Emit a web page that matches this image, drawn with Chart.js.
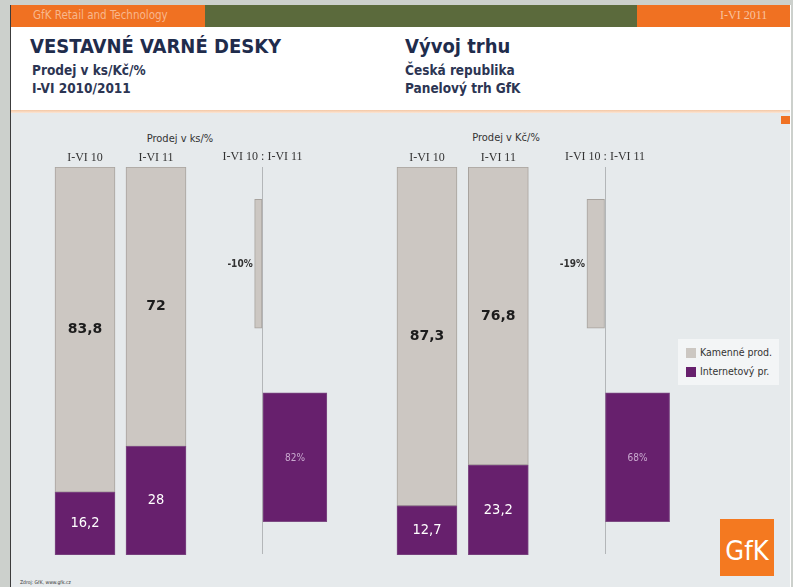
<!DOCTYPE html>
<html><head>
<meta charset="UTF-8">
<title>Vestavné varné desky</title>
<script src="https://cdn.jsdelivr.net/npm/chart.js"></script>
<style>
  body { margin:0; width:793px; height:587px; background:#ccd0cc; overflow:hidden; position:relative;
         font-family:"DejaVu Sans Condensed","DejaVu Sans",sans-serif; }
  .abs { position:absolute; }
  .serif { font-family:"Liberation Serif", serif; }
  .title { font-weight:bold; font-size:20px; color:#1f2c4c; }
  .sub { font-weight:bold; font-size:13.5px; color:#2c3553; }
  .head { font-size:12px; color:#333; }
  canvas { position:absolute; }
  .lg { font-size:10.5px; color:#333; }
  .sw { width:10px; height:10px; }
</style>
</head>
<body>
  <!-- slide frame -->
  <div class="abs" style="left:10px;top:5px;width:780px;height:582px;background:#fff;border-left:1px solid #3c3c3c;"></div>
  <!-- header bar -->
  <div class="abs" style="left:11px;top:5px;width:194px;height:22px;background:#f07122;"></div>
  <div class="abs" style="left:205px;top:5px;width:432px;height:22px;background:#5b6a3c;"></div>
  <div class="abs" style="left:637px;top:5px;width:153px;height:22px;background:#f07122;"></div>
  <div class="abs" style="left:33px;top:8px;font-size:11.5px;color:#f8b78d;">GfK Retail and Technology</div>
  <div class="abs serif" style="left:720px;top:8px;font-size:12px;color:#f9c4a0;">I-VI 2011</div>

  <!-- titles -->
  <div class="abs title" style="left:30px;top:34px;">VESTAVNÉ VARNÉ DESKY</div>
  <div class="abs sub" style="left:32px;top:62px;">Prodej v ks/Kč/%</div>
  <div class="abs sub" style="left:32px;top:80px;">I-VI 2010/2011</div>
  <div class="abs title" style="left:405px;top:34px;">Vývoj trhu</div>
  <div class="abs sub" style="left:405px;top:62px;">Česká republika</div>
  <div class="abs sub" style="left:405px;top:80px;">Panelový trh GfK</div>

  <!-- chart panel -->
  <div class="abs" style="left:11px;top:110px;width:779px;height:3px;background:linear-gradient(#f4c7a4,#fbe6d6);"></div>
  <div class="abs" style="left:11px;top:113px;width:779px;height:474px;background:#e6eaec;"></div>
  <div class="abs" style="left:781px;top:116px;width:9px;height:8px;background:#f07122;"></div>

  <div class="abs head" style="left:138px;top:132px;width:84px;text-align:center;font-size:11px;">Prodej v ks/%</div>
  <div class="abs head" style="left:464px;top:131px;width:84px;text-align:center;font-size:11px;">Prodej v Kč/%</div>

  <canvas id="ksShare" width="160" height="440" style="left:40px;top:120px;"></canvas>
  <canvas id="ksChange" width="190" height="440" style="left:170px;top:120px;"></canvas>
  <canvas id="kcShare" width="160" height="440" style="left:380px;top:120px;"></canvas>
  <canvas id="kcChange" width="180" height="440" style="left:515px;top:120px;"></canvas>

  <!-- legend -->
  <div class="abs" style="left:678px;top:339px;width:101px;height:46px;background:#f3f5f6;"></div>
  <div class="abs sw" style="left:686px;top:348px;background:#ccc7c2;"></div>
  <div class="abs lg" style="left:700px;top:346px;" id="lg0"></div>
  <div class="abs sw" style="left:686px;top:367px;background:#67206d;"></div>
  <div class="abs lg" style="left:700px;top:365px;" id="lg1"></div>

  <!-- logo and footnote -->
  <div class="abs" style="left:720px;top:519px;width:54px;height:57px;background:#f47920;"></div>
  <div class="abs" style="left:720px;top:535px;width:54px;text-align:center;color:#fff;font-size:27px;font-family:'Liberation Sans Narrow','DejaVu Sans Condensed',sans-serif;">GfK</div>
  <div class="abs" style="left:20px;top:579px;font-size:5px;color:#333;">Zdroj: GfK, www.gfk.cz</div>

<script>
const periods = ['I-VI 10', 'I-VI 11'];
const seriesNames = ['Kamenné prod.', 'Internetový pr.'];
const changeLabel = 'I-VI 10 : I-VI 11';

// podíly v %
const ksStore = [83.8, 72];
const ksOnline = [16.2, 28];
const kcStore = [87.3, 76.8];
const kcOnline = [12.7, 23.2];

// meziroční změna v % [kamenné, internet]
const ksChange = [-10, 82];
const kcChange = [-19, 68];

const GREY = '#ccc7c2', GREY_EDGE = '#a8a39e';
const PURPLE = '#67206d', PURPLE_EDGE = '#7d4a83';

document.getElementById('lg0').textContent = seriesNames[0];
document.getElementById('lg1').textContent = seriesNames[1];

Chart.defaults.font.family = '"DejaVu Sans Condensed","DejaVu Sans",sans-serif';

const fmt = v => String(v).replace('.', ',');

// popisky hodnot
const valueLabels = {
  id: 'valueLabels',
  afterDatasetsDraw(chart, args, opts) {
    const ctx = chart.ctx;
    ctx.save();
    ctx.textBaseline = 'middle';
    chart.data.datasets.forEach((ds, i) => {
      chart.getDatasetMeta(i).data.forEach((bar, j) => {
        const v = ds.data[j];
        if (opts.mode === 'change') {
          if (v < 0) {
            ctx.font = 'bold 10px "DejaVu Sans Condensed","DejaVu Sans"';
            ctx.fillStyle = '#333';
            ctx.textAlign = 'right';
            ctx.fillText(v + '%', bar.x - 2, bar.y + 1);
          } else {
            ctx.font = '10px "DejaVu Sans Condensed","DejaVu Sans"';
            ctx.fillStyle = '#c9a9cf';
            ctx.textAlign = 'center';
            ctx.fillText(v + '%', (bar.x + bar.base) / 2, bar.y + 1);
          }
        } else {
          const online = i === 0;
          ctx.font = online ? '14.5px "DejaVu Sans Condensed","DejaVu Sans"' : 'bold 14px "DejaVu Sans"';
          ctx.fillStyle = online ? '#ffffff' : '#1c1c1c';
          ctx.textAlign = 'center';
          ctx.fillText(fmt(v), bar.x, (bar.y + bar.base) / 2);
        }
      });
    });
    ctx.restore();
  }
};

function shareChart(id, store, online, padL, padR) {
  return new Chart(document.getElementById(id), {
    type: 'bar',
    data: {
      labels: periods,
      datasets: [
        { label: seriesNames[1], data: online, backgroundColor: PURPLE, borderColor: PURPLE_EDGE,
          borderWidth: 1, borderSkipped: false, barThickness: 60 },
        { label: seriesNames[0], data: store, backgroundColor: GREY, borderColor: GREY_EDGE,
          borderWidth: 1, borderSkipped: false, barThickness: 60 }
      ]
    },
    options: {
      responsive: false,
      animation: false,
      layout: { padding: { left: padL, right: padR, top: 0, bottom: 5 } },
      plugins: { legend: { display: false }, tooltip: { enabled: false }, valueLabels: { mode: 'share' } },
      scales: {
        x: {
          position: 'top', stacked: true,
          grid: { display: false, drawTicks: false }, border: { display: false },
          ticks: { padding: 2, color: '#333', font: { family: 'Liberation Serif', size: 12 } },
          afterFit: a => { a.height = 47; }
        },
        y: { stacked: true, min: 0, max: 100, display: false }
      }
    },
    plugins: [valueLabels]
  });
}

function changeChart(id, values, lim, padL, padR) {
  return new Chart(document.getElementById(id), {
    type: 'bar',
    data: {
      labels: seriesNames,
      datasets: [{
        data: values,
        backgroundColor: [GREY, PURPLE],
        borderColor: [GREY_EDGE, PURPLE_EDGE],
        borderWidth: 1, borderSkipped: false, barThickness: 129
      }]
    },
    options: {
      indexAxis: 'y',
      responsive: false,
      animation: false,
      layout: { padding: { left: padL, right: padR, top: 0, bottom: 6 } },
      plugins: { legend: { display: false }, tooltip: { enabled: false }, valueLabels: { mode: 'change' } },
      scales: {
        x: {
          position: 'top', min: -lim, max: lim,
          ticks: { display: false, stepSize: 10 },
          border: { display: false },
          grid: { drawTicks: false, lineWidth: 1,
                  color: c => (c.tick && c.tick.value === 0) ? '#b3b6b8' : 'transparent' },
          title: { display: true, text: changeLabel, color: '#333',
                   font: { family: 'Liberation Serif', size: 12 }, padding: { top: 30, bottom: 0 } },
          afterFit: a => { a.height = 47; }
        },
        y: { display: false }
      }
    },
    plugins: [valueLabels]
  });
}

shareChart('ksShare', ksStore, ksOnline, 9.5, 8.5);
shareChart('kcShare', kcStore, kcOnline, 11.3, 6);
changeChart('ksChange', ksChange, 100, 14, 19);
changeChart('kcChange', kcChange, 80, 14, 14);
</script>
</body></html>
